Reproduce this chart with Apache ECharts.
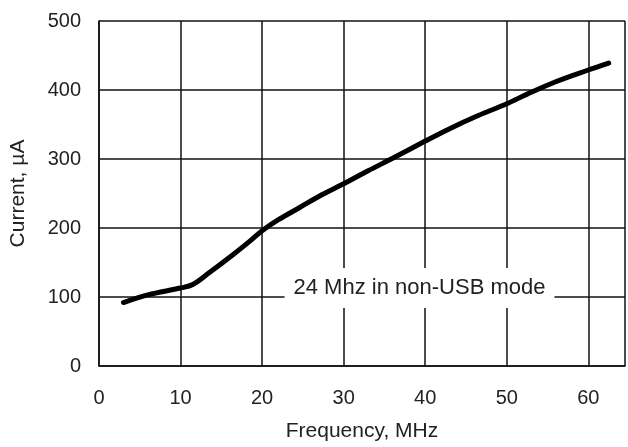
<!DOCTYPE html>
<html>
<head>
<meta charset="utf-8">
<script src="https://cdn.jsdelivr.net/npm/echarts@6/dist/echarts.min.js"></script>
<style>
  html, body { margin: 0; padding: 0; background: #fff; }
  #chart { width: 628px; height: 447px; }
</style>
</head>
<body>
<div id="chart"></div>
<script>
// frequency (MHz) and supply current (uA)
const freq = [3, 6, 10, 11.5, 13.5, 16.5, 18.5, 20, 22, 24.5, 27, 30, 33, 36, 40, 43, 46.5, 50, 52.5, 56, 60, 62.5];
const current = [92, 103, 113, 118, 135, 162, 181, 196, 212, 229, 246, 264, 283, 301, 326, 344, 363, 380, 394, 412, 429, 439];
const xTicks = [0, 10, 20, 30, 40, 50, 60];
const yTicks = [0, 100, 200, 300, 400, 500];
const noteText = "24 Mhz in non-USB mode";
const notePos = [39.3, 113];

const font = "'Liberation Sans', Arial, sans-serif";
const chart = echarts.init(document.getElementById("chart"));

const option = {
  backgroundColor: "#fff",
  animation: false,
  grid: { left: 98, top: 21, width: 532, height: 345 },
  xAxis: {
    type: "value",
    min: 0,
    max: 64.5,
    interval: 10,
    name: "Frequency, MHz",
    nameLocation: "middle",
    nameGap: 55,
    nameTextStyle: { fontFamily: font, fontSize: 21, color: "#222" },
    axisLine: { show: true, lineStyle: { color: "#111", width: 1.5 } },
    axisTick: { show: false },
    axisLabel: {
      margin: 22,
      fontFamily: font,
      fontSize: 20,
      color: "#222",
      formatter: v => (xTicks.includes(v) ? String(v) : "")
    },
    splitLine: { show: true, lineStyle: { color: "#111", width: 1.5 } }
  },
  yAxis: {
    type: "value",
    min: 0,
    max: 500,
    interval: 100,
    name: "Current, µA",
    nameLocation: "middle",
    nameGap: 70,
    nameTextStyle: { fontFamily: font, fontSize: 21, color: "#222" },
    axisLine: { show: true, lineStyle: { color: "#111", width: 1.5 } },
    axisTick: { show: false },
    axisLabel: {
      margin: 18,
      fontFamily: font,
      fontSize: 20,
      color: "#222",
      formatter: v => (yTicks.includes(v) ? String(v) : "")
    },
    splitLine: { show: true, lineStyle: { color: "#111", width: 1.5 } }
  },
  series: [
    {
      type: "line",
      data: freq.map((f, i) => [f, current[i]]),
      smooth: 0.35,
      showSymbol: false,
      lineStyle: { color: "#000", width: 5, cap: "round" },
      markPoint: {
        symbol: "rect",
        symbolSize: 0,
        label: {
          show: true,
          position: "inside",
          formatter: noteText,
          fontFamily: font,
          fontSize: 22,
          color: "#222",
          backgroundColor: "#fff",
          padding: [9, 9]
        },
        data: [{ coord: notePos }]
      }
    }
  ]
};

chart.setOption(option);
</script>
</body>
</html>
